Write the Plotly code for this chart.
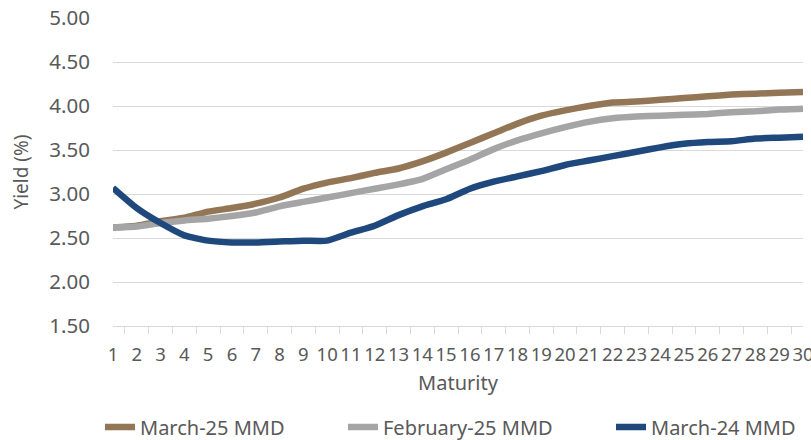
import plotly.graph_objects as go

maturity = list(range(1, 31))
march25 = [2.62, 2.64, 2.69, 2.73, 2.80, 2.84, 2.89, 2.96, 3.06, 3.13,
           3.18, 3.24, 3.29, 3.37, 3.47, 3.58, 3.69, 3.80, 3.89, 3.95,
           4.00, 4.04, 4.05, 4.07, 4.09, 4.11, 4.13, 4.14, 4.15, 4.16]
feb25 = [2.62, 2.63, 2.67, 2.70, 2.72, 2.75, 2.79, 2.86, 2.91, 2.96,
         3.01, 3.06, 3.11, 3.17, 3.28, 3.39, 3.51, 3.61, 3.69, 3.76,
         3.82, 3.86, 3.88, 3.89, 3.90, 3.91, 3.93, 3.94, 3.96, 3.97]
march24 = [3.07, 2.84, 2.67, 2.53, 2.47, 2.45, 2.45, 2.46, 2.47, 2.47,
           2.56, 2.64, 2.76, 2.86, 2.94, 3.06, 3.14, 3.20, 3.26, 3.33,
           3.38, 3.43, 3.48, 3.53, 3.57, 3.59, 3.60, 3.63, 3.64, 3.65]
series_names = ["March-25 MMD", "February-25 MMD", "March-24 MMD"]
colors = ["#937656", "#A5A5A5", "#1F497D"]

legend_ids = ["legend", "legend2", "legend3"]
legend_x = [0.1233, 0.4229, 0.7534]

fig = go.Figure()
for name, vals, col, lid in zip(series_names, [march25, feb25, march24], colors, legend_ids):
    fig.add_trace(go.Scatter(
        x=[str(m) for m in maturity], y=vals, name=name, mode="lines",
        line=dict(color=col, width=6.5, shape="spline", smoothing=0.5),
        legend=lid,
    ))

font = "Noto Sans"
legend_common = dict(orientation="h", xref="container", xanchor="left",
                     yref="container", y=0.0295, yanchor="middle",
                     font=dict(size=20, color="#595959"),
                     bgcolor="rgba(0,0,0,0)")
fig.update_layout(
    width=811, height=440,
    margin=dict(l=113, r=8, t=18, b=114, autoexpand=False),
    paper_bgcolor="white", plot_bgcolor="white",
    font=dict(family=font, size=20, color="#595959"),
    showlegend=True,
    legend=dict(x=legend_x[0], **legend_common),
    legend2=dict(x=legend_x[1], **legend_common),
    legend3=dict(x=legend_x[2], **legend_common),
    xaxis=dict(type="category", showgrid=False, showline=True,
               linecolor="#D9D9D9", linewidth=1, ticks="outside",
               tickson="boundaries", ticklen=7, tickcolor="#D9D9D9",
               tickfont=dict(size=18.5), tickangle=0,
               ticklabelstandoff=12,
               title=dict(text="Maturity", standoff=10, font=dict(size=20))),
    yaxis=dict(range=[1.5, 5.0], dtick=0.5, tickformat=".2f",
               showgrid=True, gridcolor="#D9D9D9", gridwidth=1,
               zeroline=False, showline=False, ticks="",
               ticklabelstandoff=22,
               tickfont=dict(size=20.5),
               title=dict(text="Yield (%)", standoff=15, font=dict(size=19))),
)
fig.write_html(
    "out.html",
    config={"displayModeBar": False},
    post_script="document.body.style.margin='0';document.body.style.overflow='hidden';",
)
